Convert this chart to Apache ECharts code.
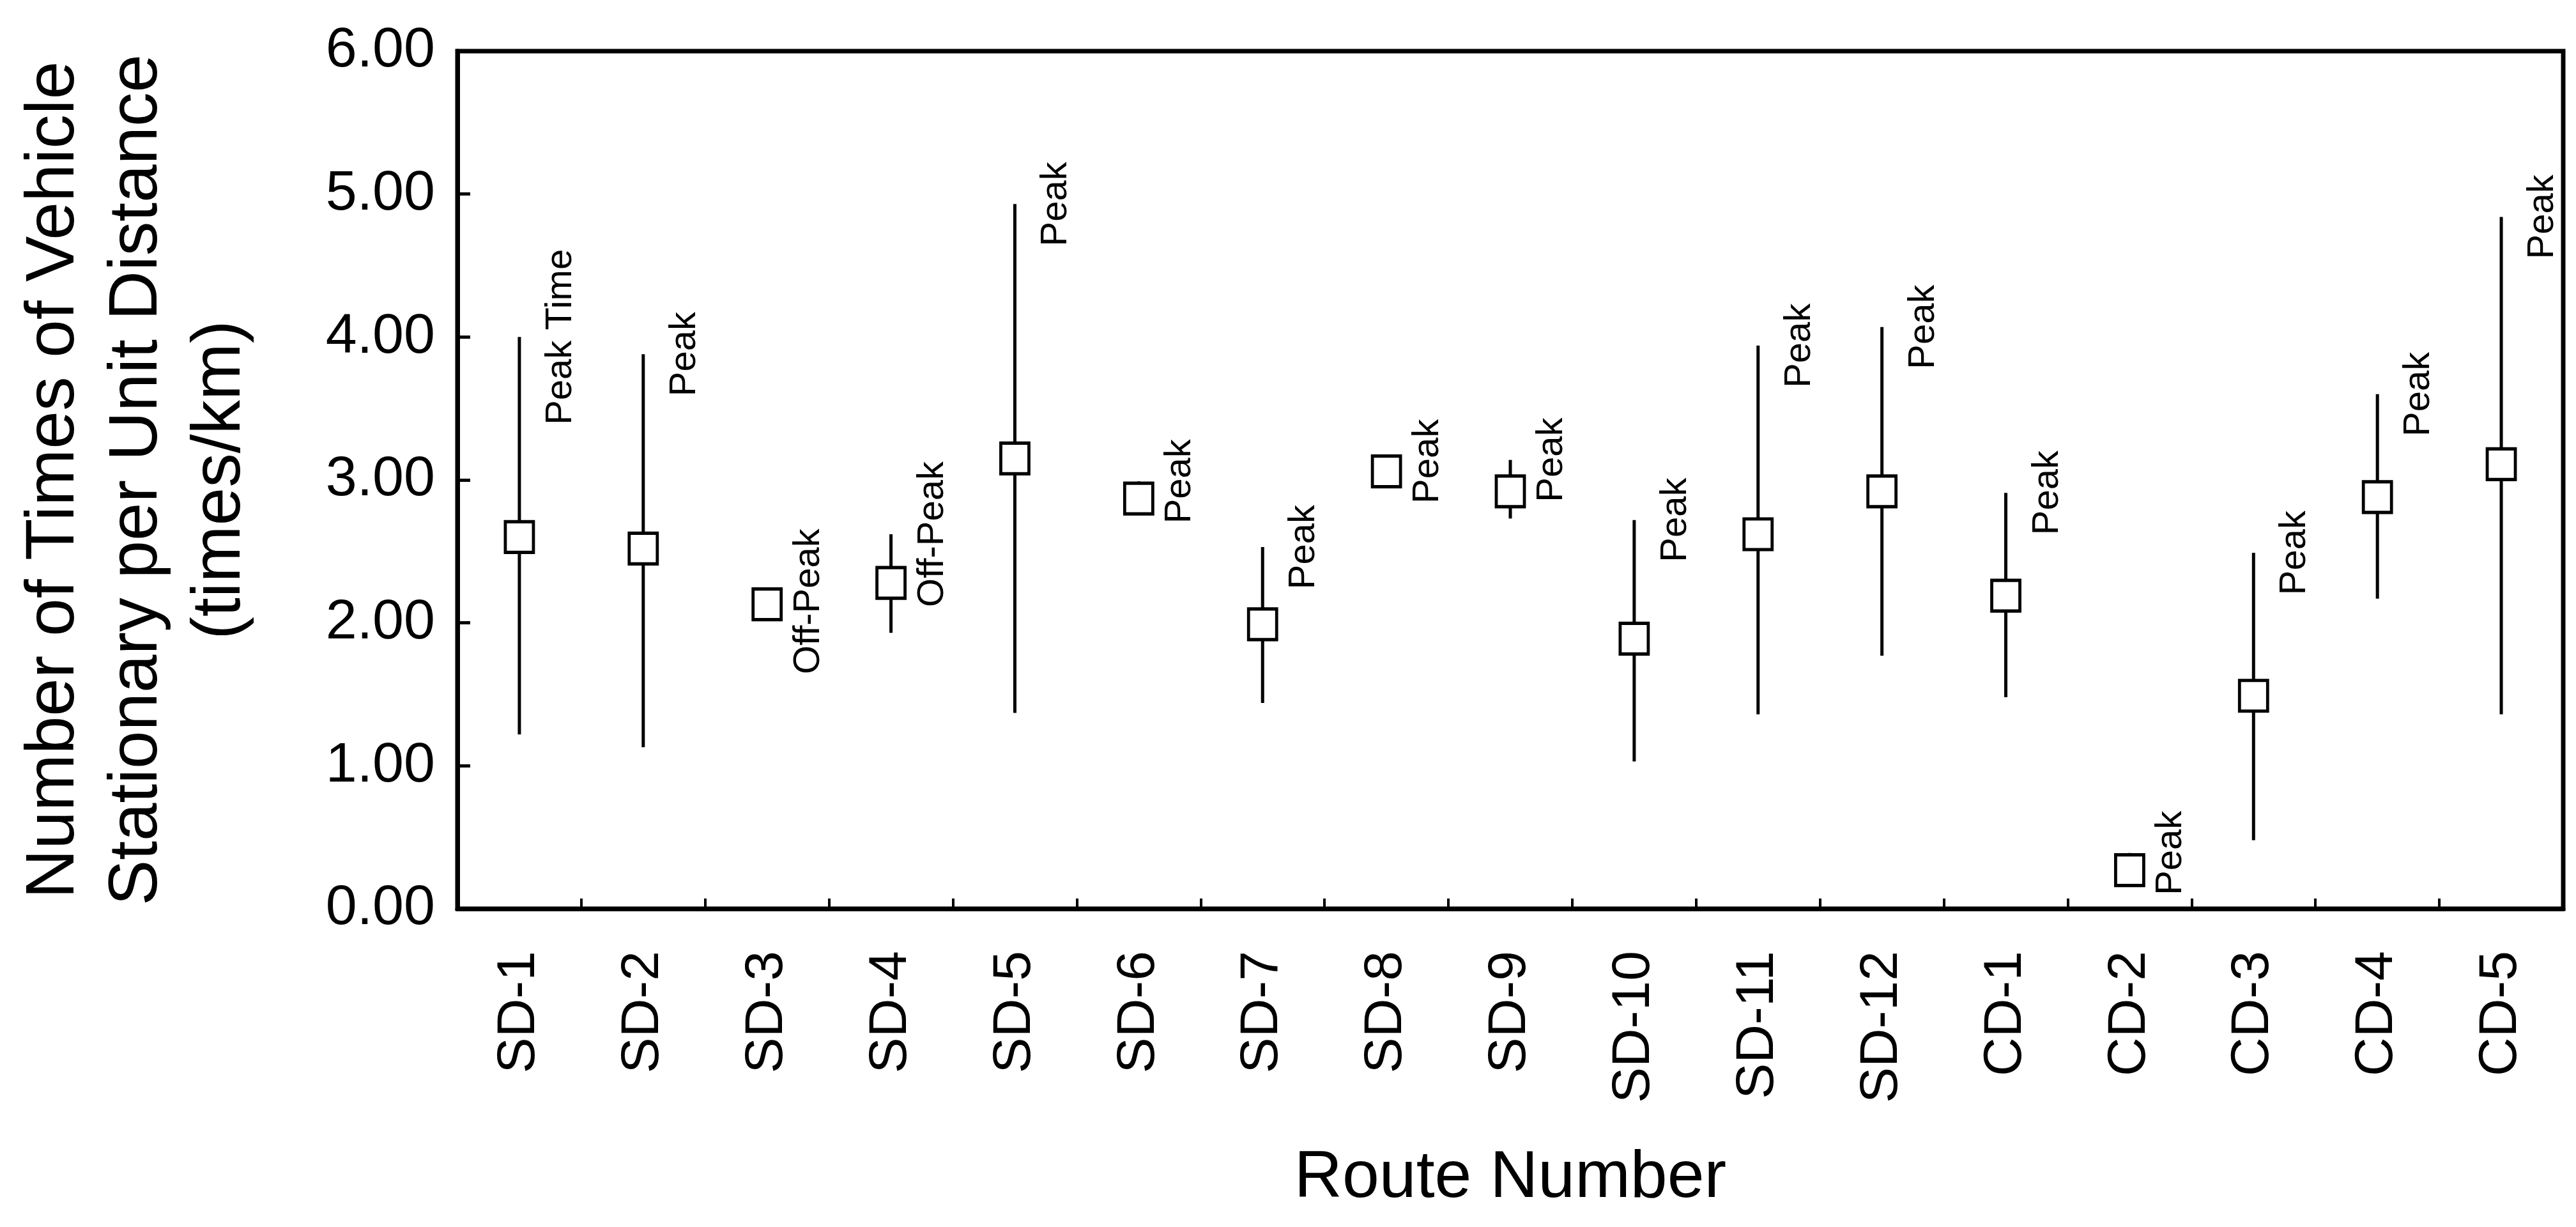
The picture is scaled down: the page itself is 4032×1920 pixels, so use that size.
<!DOCTYPE html>
<html>
<head>
<meta charset="utf-8">
<script src="https://cdn.jsdelivr.net/npm/echarts@6/dist/echarts.min.js"></script>
<style>html,body{margin:0;padding:0;background:#fff;}#c{width:4032px;height:1920px;}</style>
</head>
<body>
<div id="c"></div>
<script>
var routes = ['SD-1','SD-2','SD-3','SD-4','SD-5','SD-6','SD-7','SD-8','SD-9','SD-10','SD-11','SD-12','CD-1','CD-2','CD-3','CD-4','CD-5'];
var lowVals  = [1.22, 1.13, 2.10, 1.93, 1.37, 2.80, 1.44, 3.00, 2.73, 1.03, 1.36, 1.77, 1.48, 0.22, 0.48, 2.17, 1.36];
var meanVals = [2.60, 2.52, 2.13, 2.28, 3.15, 2.87, 1.99, 3.06, 2.92, 1.89, 2.62, 2.92, 2.19, 0.27, 1.49, 2.88, 3.11];
var highVals = [4.00, 3.88, 2.15, 2.62, 4.93, 2.99, 2.53, 3.13, 3.14, 2.72, 3.94, 4.07, 2.91, 0.39, 2.49, 3.60, 4.84];
var periodLabels = ['Peak Time','Peak','Off-Peak','Off-Peak','Peak','Peak','Peak','Peak','Peak','Peak','Peak','Peak','Peak','Peak','Peak','Peak','Peak'];
var yTicks = [0, 1, 2, 3, 4, 5, 6];

var FONT = "'Liberation Sans', Arial, Helvetica, sans-serif";
var chart = echarts.init(document.getElementById('c'), null, {renderer: 'canvas'});

var rangeData = routes.map(function (r, i) { return [i, lowVals[i], highVals[i]]; });
var meanData = routes.map(function (r, i) { return [i, meanVals[i]]; });

chart.setOption({
  backgroundColor: '#fff',
  animation: false,
  grid: {left: 716, right: 20, top: 80, bottom: 498, show: true, borderColor: '#000', borderWidth: 7, backgroundColor: 'transparent'},
  xAxis: {
    type: 'category',
    data: routes,
    boundaryGap: true,
    name: 'Route Number',
    nameLocation: 'middle',
    nameGap: 370,
    nameTextStyle: {fontSize: 104, fontFamily: FONT, color: '#000'},
    axisLine: {lineStyle: {color: '#000', width: 7}},
    axisTick: {show: true, inside: true, length: 16, lineStyle: {color: '#000', width: 4}},
    axisLabel: {rotate: 90, fontSize: 84, fontFamily: FONT, color: '#000', margin: 66},
    splitLine: {show: false}
  },
  yAxis: {
    type: 'value',
    min: yTicks[0],
    max: yTicks[yTicks.length - 1],
    interval: 1,
    name: 'Number of Times of Vehicle\nStationary per Unit Distance\n(times/km)',
    nameLocation: 'middle',
    nameRotate: 90,
    nameGap: 306,
    nameTextStyle: {fontSize: 107, lineHeight: 130, fontFamily: FONT, color: '#000', align: 'center'},
    axisLine: {show: true, lineStyle: {color: '#000', width: 7}},
    axisTick: {show: true, inside: true, length: 20, lineStyle: {color: '#000', width: 5}},
    axisLabel: {fontSize: 88, fontFamily: FONT, color: '#000', margin: 35, formatter: function (v) { return v.toFixed(2); }},
    splitLine: {show: false}
  },
  series: [
    {
      type: 'custom',
      data: rangeData,
      z: 2,
      renderItem: function (params, api) {
        var x = api.value(0), lo = api.value(1), hi = api.value(2);
        var pLo = api.coord([x, lo]);
        var pHi = api.coord([x, hi]);
        return {
          type: 'group',
          children: [
            {type: 'line', shape: {x1: pLo[0], y1: pLo[1], x2: pHi[0], y2: pHi[1]}, style: {stroke: '#000', lineWidth: 5}},
            {type: 'text', x: pHi[0] + 65, y: pHi[1], rotation: Math.PI / 2,
             style: {text: periodLabels[params.dataIndex], fontSize: 58, fontFamily: FONT, fill: '#000', align: 'center', verticalAlign: 'middle'}}
          ]
        };
      }
    },
    {
      type: 'scatter',
      data: meanData,
      z: 3,
      symbol: 'rect',
      symbolSize: [44, 48],
      itemStyle: {color: '#fff', borderColor: '#000', borderWidth: 5, opacity: 1},
      emphasis: {disabled: true}
    }
  ]
});
</script>
</body>
</html>
